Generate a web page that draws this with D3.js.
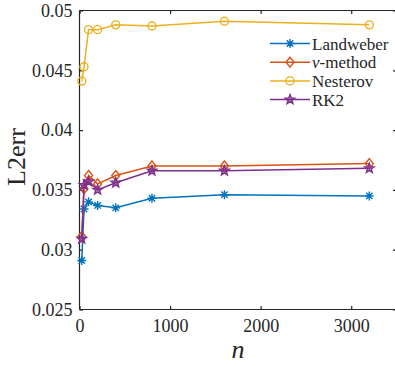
<!DOCTYPE html>
<html>
<head>
<meta charset="utf-8">
<script src="https://cdn.jsdelivr.net/npm/d3@7/dist/d3.min.js"></script>
<style>
  html, body { margin: 0; padding: 0; background: #fff; }
  svg { display: block; }
  text { font-family: "Liberation Serif", "Times New Roman", serif; fill: #262626; }
</style>
</head>
<body>
<svg id="chart" width="395" height="367"></svg>
<script>
// Iteration counts
const nValues = [25, 50, 100, 200, 400, 800, 1600, 3200];

// L2 error per method
const landweber = [0.0291, 0.0334, 0.0340, 0.0337, 0.0335, 0.0343, 0.0346, 0.0345];
const nuMethod  = [0.0311, 0.0351, 0.0362, 0.0355, 0.0362, 0.0370, 0.0370, 0.0372];
const nesterov  = [0.0441, 0.0453, 0.0484, 0.0484, 0.0488, 0.0487, 0.0491, 0.0488];
const rk2       = [0.0309, 0.0354, 0.0357, 0.0350, 0.0356, 0.0366, 0.0366, 0.0368];

const xTicks = [0, 1000, 2000, 3000];
const yTicks = [0.025, 0.03, 0.035, 0.04, 0.045, 0.05];

const seriesList = [
  { name: "Landweber", values: landweber, color: "#0072BD", marker: "asterisk" },
  { name: "ν-method",  values: nuMethod,  color: "#D95319", marker: "diamond" },
  { name: "Nesterov",  values: nesterov,  color: "#EDB120", marker: "circle" },
  { name: "RK2",       values: rk2,       color: "#7E2F8E", marker: "star" }
];

const svg = d3.select("#chart");
const plotL = 79.5, plotR = 396.5, plotT = 10.5, plotB = 309.5;

const x = d3.scaleLinear().domain([0, 3500]).range([plotL, plotR]);
const y = d3.scaleLinear().domain([0.025, 0.05]).range([plotB, plotT]);

const axisColor = "#262626";
const tickLen = 3.5;

// Axes: bottom/left with labels, top/right as box with inward ticks
const gx = svg.append("g").attr("transform", `translate(0,${plotB})`)
  .call(d3.axisBottom(x).tickValues(xTicks).tickSize(-tickLen).tickPadding(10).tickFormat(d3.format("d")));
const gxTop = svg.append("g").attr("transform", `translate(0,${plotT})`)
  .call(d3.axisTop(x).tickValues(xTicks).tickSize(-tickLen).tickFormat(""));
const gy = svg.append("g").attr("transform", `translate(${plotL},0)`)
  .call(d3.axisLeft(y).tickValues(yTicks).tickSize(-tickLen).tickPadding(7).tickFormat(d => String(+d.toFixed(3))));
const gyRight = svg.append("g").attr("transform", `translate(${plotR},0)`)
  .call(d3.axisRight(y).tickValues(yTicks).tickSize(-tickLen).tickFormat(""));

[gx, gxTop, gy, gyRight].forEach(g => {
  g.select(".domain").attr("stroke", axisColor).attr("stroke-width", 1.2);
  g.selectAll(".tick line").attr("stroke", axisColor).attr("stroke-width", 1.2);
  g.selectAll(".tick text").style("font-family", '"Liberation Serif", serif')
    .style("font-size", "18px").attr("fill", axisColor);
});
gx.select(".domain").attr("d", `M${plotL},0H${plotR}`);
gxTop.select(".domain").attr("d", `M${plotL},0H${plotR}`);
gy.select(".domain").attr("d", `M0,${plotT}V${plotB}`);
gyRight.select(".domain").attr("d", `M0,${plotT}V${plotB}`);

// Axis titles
svg.append("text")
  .attr("x", (plotL + plotR) / 2).attr("y", 358)
  .attr("text-anchor", "middle")
  .style("font-size", "26px").style("font-style", "italic")
  .text("n");
svg.append("text")
  .attr("transform", `translate(25,${(plotT + plotB) / 2 - 3}) rotate(-90)`)
  .attr("text-anchor", "middle")
  .style("font-size", "26px")
  .text("L2err");

// Marker shapes
function markerPath(type) {
  if (type === "asterisk") {
    const r = 4.5, d = r * Math.SQRT1_2;
    return `M${-r},0H${r}M0,${-r}V${r}M${-d},${-d}L${d},${d}M${-d},${d}L${d},${-d}`;
  }
  if (type === "diamond") {
    return "M0,-5L4,0L0,5L-4,0Z";
  }
  if (type === "circle") {
    return d3.symbol(d3.symbolCircle, 50)();
  }
  if (type === "star") {
    const outer = 5, inner = 2.1;
    const pts = [];
    for (let i = 0; i < 10; i++) {
      const a = -Math.PI / 2 + i * Math.PI / 5;
      const rr = i % 2 === 0 ? outer : inner;
      pts.push([rr * Math.cos(a), rr * Math.sin(a)]);
    }
    return "M" + pts.map(p => p.join(",")).join("L") + "Z";
  }
}

const line = d3.line().x((d, i) => x(nValues[i])).y(d => y(d));

const plot = svg.append("g");
seriesList.forEach(s => {
  const g = plot.append("g");
  g.append("path")
    .attr("d", line(s.values))
    .attr("fill", "none")
    .attr("stroke", s.color)
    .attr("stroke-width", 1.5);
  g.selectAll("path.mk")
    .data(s.values)
    .join("path")
    .attr("class", "mk")
    .attr("transform", (d, i) => `translate(${x(nValues[i])},${y(d)})`)
    .attr("d", markerPath(s.marker))
    .attr("fill", s.marker === "star" ? s.color : "none")
    .attr("fill-opacity", 0.6)
    .attr("stroke", s.color)
    .attr("stroke-width", 1.4);
});

// Legend
const legend = svg.append("g");
const legY0 = 43.5, legDy = 18.7;
seriesList.forEach((s, i) => {
  const ly = legY0 + i * legDy;
  legend.append("line")
    .attr("x1", 270).attr("x2", 310).attr("y1", ly).attr("y2", ly)
    .attr("stroke", s.color).attr("stroke-width", 1.5);
  legend.append("path")
    .attr("transform", `translate(290,${ly})`)
    .attr("d", markerPath(s.marker))
    .attr("fill", s.marker === "star" ? s.color : "none")
    .attr("fill-opacity", 0.6)
    .attr("stroke", s.color).attr("stroke-width", 1.4);
  const t = legend.append("text")
    .attr("x", 312).attr("y", ly + 6)
    .style("font-size", "17px");
  if (s.name.startsWith("ν")) {
    t.append("tspan").style("font-style", "italic").text("ν");
    t.append("tspan").text(s.name.slice(1));
  } else {
    t.text(s.name);
  }
});
</script>
</body>
</html>
